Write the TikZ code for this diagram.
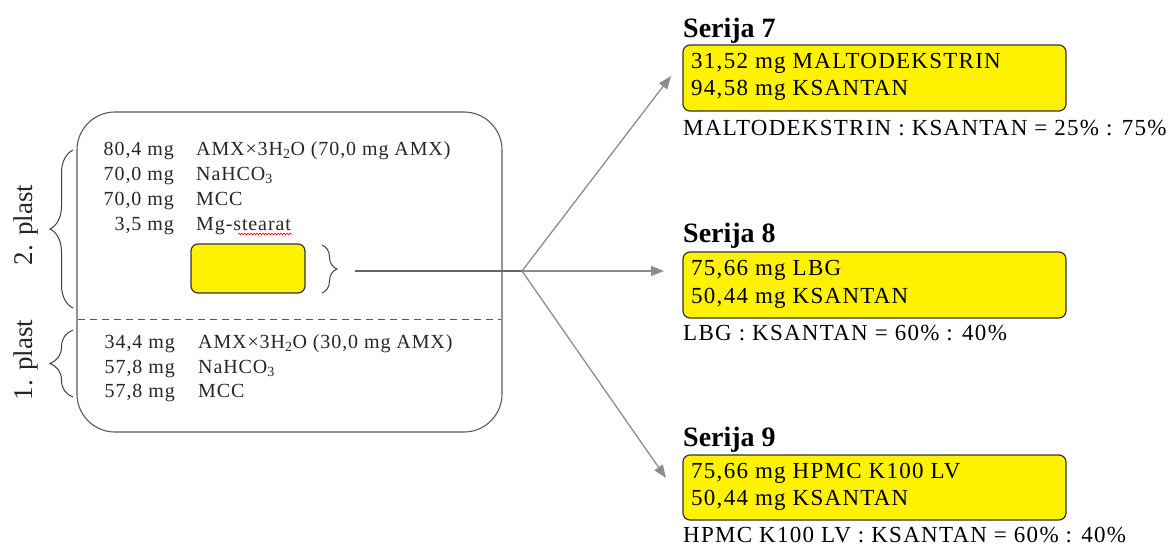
\documentclass[tikz,border=0pt]{standalone}
\usepackage{fontspec}
\setmainfont{Liberation Serif}
\usetikzlibrary{arrows.meta,decorations.pathreplacing,decorations.pathmorphing}
\begin{document}
\begin{tikzpicture}[x=1pt,y=-1pt,
  lt/.style={inner sep=0pt,text=black!85,font=\fontsize{20}{24}\selectfont\addfontfeatures{LetterSpace=4.5}},
  amt/.style={lt,anchor=base east},
  ing/.style={lt,anchor=base west},
  rt/.style={inner sep=0pt,anchor=base west,text=black,font=\fontsize{23}{27}\selectfont\addfontfeatures{LetterSpace=5.5}},
  ttl/.style={inner sep=0pt,anchor=base west,text=black,font=\fontsize{28}{32}\selectfont\bfseries},
  ybox/.style={draw=black!80,line width=1.2pt,fill=yellow,rounded corners=7pt,inner sep=0pt},
  brc/.style={decorate,draw=black!75,line width=1pt},
  arr/.style={draw=gray!90,line width=1.3pt,-{Triangle[length=13pt,width=10pt]}},
  plast/.style={inner sep=0pt,rotate=90,text=black!85,font=\fontsize{27}{30}\selectfont}
]
\useasboundingbox (0,0) rectangle (1170,547);

% main rounded box
\node[draw=black!65,line width=1.1pt,rounded corners=38pt,minimum width=425pt,minimum height=320pt,inner sep=0pt] (main) at (289.5,272) {};
\draw[black!65,line width=1pt,dash pattern=on 7pt off 5pt] (78,319) -- (501,319);

% layer 2
\node[amt] (a1) at (174,155) {80,4 mg};
\node[ing] (n1) at (196,155) {AMX×3H\textsubscript{2}O (70,0 mg AMX)};
\node[amt] (a2) at (174,180) {70,0 mg};
\node[ing] (n2) at (196,180) {NaHCO\textsubscript{3}};
\node[amt] (a3) at (174,205) {70,0 mg};
\node[ing] (n3) at (196,205) {MCC};
\node[amt] (a4) at (174,230) {3,5 mg};
\node[ing] (n4) at (196,230) {Mg-stearat};
\draw[red,line width=0.6pt,decorate,decoration={snake,amplitude=0.9pt,segment length=3pt}] (238,234) -- (292,234);

% layer 1
\node[amt] (a5) at (175,348) {34,4 mg};
\node[ing] (n5) at (198,348) {AMX×3H\textsubscript{2}O (30,0 mg AMX)};
\node[amt] (a6) at (175,373) {57,8 mg};
\node[ing] (n6) at (198,373) {NaHCO\textsubscript{3}};
\node[amt] (a7) at (175,397) {57,8 mg};
\node[ing] (n7) at (198,397) {MCC};

% small yellow box + brace
\node[ybox,minimum width=114pt,minimum height=49pt] (core) at (248,268.5) {};
\draw[brc,decoration={brace,amplitude=15pt}] (322,245) -- (322,293);

% left braces and labels
\draw[brc,decoration={brace,amplitude=23pt}] (73,308) -- (73,150);
\draw[brc,decoration={brace,amplitude=23pt}] (73,397) -- (73,330);
\node[plast] (l2) at (26,225) {2. plast};
\node[plast] (l1) at (26,360) {1. plast};

% connectors
\coordinate (ls) at (355,271);
\coordinate (br) at (522,271);
\coordinate (t7) at (671,76);
\coordinate (t8) at (664,271);
\coordinate (t9) at (666,478);
\draw[draw=black!60,line width=1.3pt] (ls) -- (br);
\draw[arr] (br) -- (t7);
\draw[arr] (br) -- (t8);
\draw[arr] (br) -- (t9);

% Serija 7
\node[ttl] (s7) at (683,37) {Serija 7};
\node[ybox,minimum width=383pt,minimum height=66pt] (b7) at (874.5,78) {};
\node[rt] (b7a) at (691,68) {31,52 mg MALTODEKSTRIN};
\node[rt] (b7b) at (691,95) {94,58 mg KSANTAN};
\node[rt] (r7) at (683,135) {MALTODEKSTRIN : KSANTAN = 25\% : 75\%};

% Serija 8
\node[ttl] (s8) at (683,242) {Serija 8};
\node[ybox,minimum width=383pt,minimum height=66pt] (b8) at (874.5,285) {};
\node[rt] (b8a) at (691,275) {75,66 mg LBG};
\node[rt] (b8b) at (691,303) {50,44 mg KSANTAN};
\node[rt] (r8) at (683,340) {LBG : KSANTAN = 60\% : 40\%};

% Serija 9
\node[ttl] (s9) at (683,446) {Serija 9};
\node[ybox,minimum width=383pt,minimum height=65pt] (b9) at (874.5,487.5) {};
\node[rt] (b9a) at (691,478) {75,66 mg HPMC K100 LV};
\node[rt] (b9b) at (691,505) {50,44 mg KSANTAN};
\node[rt] (r9) at (683,542) {HPMC K100 LV : KSANTAN = 60\% : 40\%};
\end{tikzpicture}
\end{document}
